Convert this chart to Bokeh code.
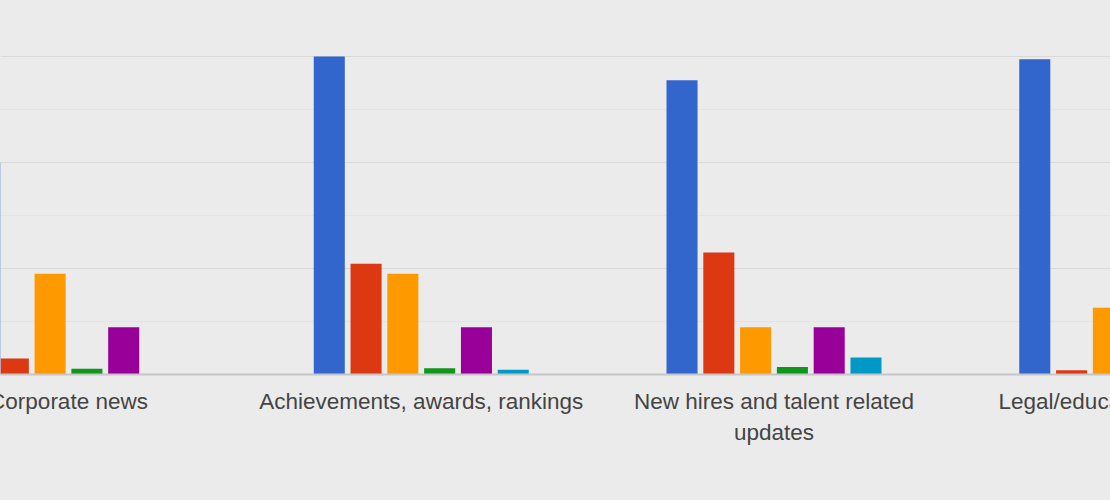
from bokeh.plotting import figure
from bokeh.models import (ColumnDataSource, Range1d, LinearAxis, FixedTicker, Grid, Label,
                          GlobalInlineStyleSheet)
from bokeh.transform import dodge
from bokeh.embed import file_html
from bokeh.resources import INLINE

# ---- data (one gridline = 10) ----
categories = ["Corporate news", "Achievements, awards, rankings",
              "New hires and talent related updates", "Legal/educational content"]
tick_labels = ["Corporate news", "Achievements, awards, rankings",
               "New hires and talent related\nupdates", "Legal/educational content"]
series_names = ["Series 1", "Series 2", "Series 3", "Series 4", "Series 5", "Series 6"]
series_1 = [40.0, 60.0, 55.5, 59.5]
series_2 = [3.0, 20.9, 23.0, 0.8]
series_3 = [19.0, 19.0, 8.9, 12.6]
series_4 = [1.1, 1.2, 1.4, 1.0]
series_5 = [8.9, 8.9, 8.9, 8.9]
series_6 = [0.0, 0.9, 3.2, 1.0]
series_colors = ["#3366cc", "#dc3912", "#ff9900", "#109618", "#990099", "#0099c6"]
major_ticks = [0, 20, 40, 60]
minor_ticks = [10, 30, 50]

values = [series_1, series_2, series_3, series_4, series_5, series_6]
data = {"xi": list(range(len(categories))), "cat": categories}
for name, vals in zip(series_names, values):
    data[name] = vals
source = ColumnDataSource(data)

BG = "#ebebeb"
p = figure(width=1110, height=500, output_backend="svg", toolbar_location=None,
           x_range=Range1d(-0.1928, 2.9539), y_range=Range1d(0, 70.57),
           x_axis_location=None, y_axis_location=None,
           min_border=0, min_border_left=0, min_border_right=0, min_border_top=0,
           min_border_bottom=126,
           background_fill_color=BG, border_fill_color=BG, outline_line_color=None)
p.grid.visible = False

major_grid = Grid(dimension=1, ticker=FixedTicker(ticks=major_ticks),
                  grid_line_color="#d9d9d9", grid_line_width=1)
minor_grid = Grid(dimension=1, ticker=FixedTicker(ticks=minor_ticks),
                  grid_line_color="#e3e3e3", grid_line_width=1)
p.add_layout(minor_grid)
p.add_layout(major_grid)

slot = 0.1043
bar_w = 0.088
n = len(series_names)
for j, (name, color) in enumerate(zip(series_names, series_colors)):
    off = (j - (n - 1) / 2) * slot
    p.vbar(x=dodge("xi", off, range=p.x_range), top=name, bottom=0, width=bar_w,
           source=source, fill_color=color, line_color=None)

FONT = "Liberation Sans"
FSIZE = "22.5px"
TCOLOR = "#444444"

# inner categories are labelled by the axis itself
inner = list(range(1, len(categories) - 1))
xaxis = LinearAxis(ticker=FixedTicker(ticks=inner))
xaxis.major_label_overrides = {i: tick_labels[i] for i in inner}
xaxis.axis_line_color = "#c6c6c6"
xaxis.axis_line_width = 2
xaxis.major_tick_line_color = None
xaxis.minor_tick_line_color = None
xaxis.major_tick_out = 0
xaxis.major_tick_in = 0
xaxis.major_label_standoff = 14
xaxis.major_label_text_font = FONT
xaxis.major_label_text_font_size = FSIZE
xaxis.major_label_text_color = TCOLOR
xaxis.major_label_text_line_height = 1.24
p.add_layout(xaxis, "below")

# the first and last categories sit at the chart's cut edges; their labels are
# centred on the category like the others and run off the edge, as in the original.
# Each label added below gets its own stacked panel, hence the differing offsets.
for i, y_off in ((0, 71), (len(categories) - 1, 96)):
    p.add_layout(Label(x=i, y=y_off, x_units="data", y_units="screen",
                       text=tick_labels[i], text_align="center", text_baseline="middle",
                       text_font=FONT, text_font_size=FSIZE, text_color=TCOLOR), "below")

p.stylesheets = [GlobalInlineStyleSheet(css="html, body { background: #ebebeb; }")]

open("out.html", "w").write(file_html(p, INLINE))
